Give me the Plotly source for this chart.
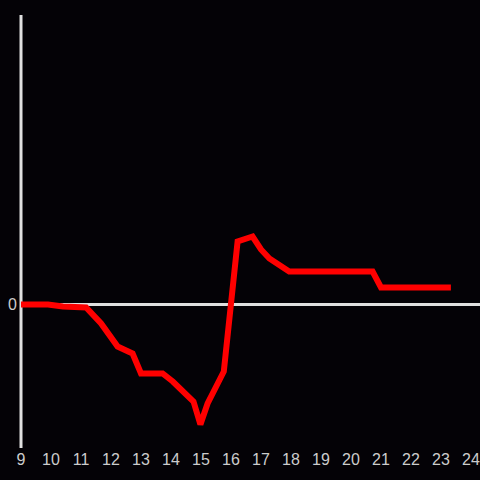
import plotly.graph_objects as go

# Verlauf (x = Stunde, y = Abweichung)
stunden = [9.0, 9.9, 10.4, 11.17, 11.67, 12.0, 12.22, 12.72, 13.0, 13.72, 14.06,
           14.75, 14.98, 15.22, 15.76, 16.22, 16.72, 17.0, 17.28, 17.94, 20.72,
           21.0, 23.33]
werte = [0.0, 0.0, -0.2, -0.3, -1.9, -3.4, -4.2, -4.9, -6.9, -6.9, -7.7,
         -9.7, -12.0, -9.9, -6.7, 6.3, 6.8, 5.5, 4.6, 3.3, 3.3,
         1.7, 1.7]
x_ticks = list(range(9, 25))

AXENFARBE = '#e0e0e0'

fig = go.Figure()
fig.add_trace(go.Scatter(
    x=stunden, y=werte, mode='lines',
    line=dict(color='#ff0000', width=6),
    showlegend=False, hoverinfo='skip',
))

# senkrechte Achse am linken Rand des Plotbereichs (nicht abgeschnitten)
fig.add_shape(type='line', xref='paper', yref='paper', x0=0, x1=0, y0=0, y1=1,
              line=dict(color=AXENFARBE, width=3), layer='below')

fig.update_layout(
    width=480, height=480,
    paper_bgcolor='#040206', plot_bgcolor='#040206',
    margin=dict(l=21, r=0, t=15, b=32),
    font=dict(family='Liberation Sans, Arial, sans-serif', size=16, color='#cccccc'),
)
fig.update_xaxes(
    range=[9, 24.3], tickvals=x_ticks, showgrid=False, zeroline=False,
    showline=False, ticks='',
)
fig.update_yaxes(
    range=[-14.35, 28.95], tickvals=[0], showgrid=False,
    zeroline=True, zerolinecolor=AXENFARBE, zerolinewidth=3,
    showline=False, ticks='', ticklabelstandoff=3,
)

# Seitenrand entfernen, damit die Grafik das Fenster füllt
fig.write_html(
    "out.html",
    config={'displayModeBar': False},
    post_script="document.body.style.margin='0';document.body.style.background='#040206';",
)
